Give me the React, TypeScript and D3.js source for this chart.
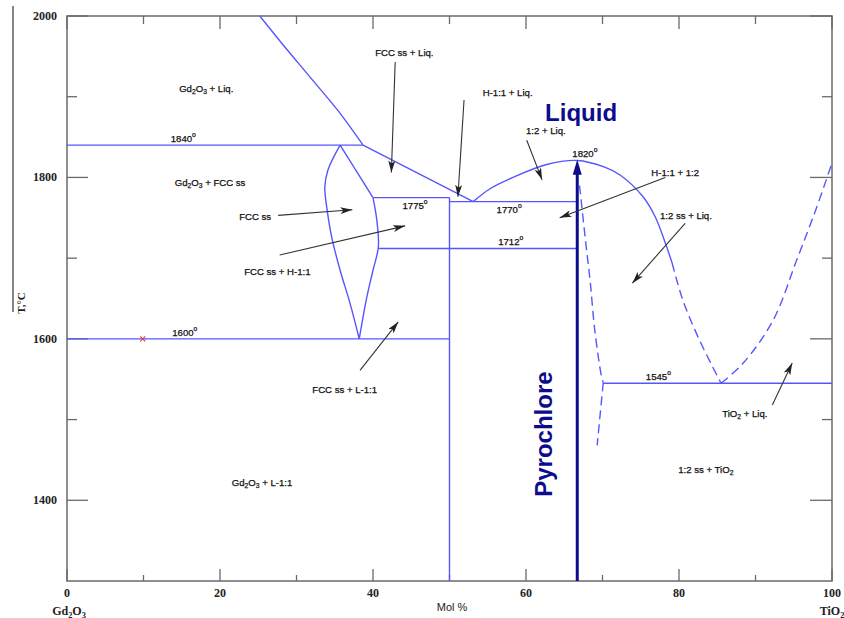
import React from "react";
import * as d3 from "d3";

// axis ticks
const molTicks = [0, 20, 40, 60, 80, 100];
const molMinor = [10, 30, 50, 70, 90];
const tempTicks = [1400, 1600, 1800, 2000];
const tempMinor = [1500, 1700, 1900];

// phase boundaries, [mol % TiO2, T °C]
const liquidusUpper = [[25.2, 2000], [28.1, 1966], [31.8, 1924], [35.4, 1883], [38.7, 1840]];
const liquidusLower = [[38.7, 1840], [53.1, 1770]];
const fccLeft = [[35.7, 1840], [34.1, 1809], [33.7, 1788], [34.0, 1760], [34.6, 1726], [35.7, 1685], [37.0, 1644], [38.2, 1600]];
const fccRightTop = [[35.7, 1840], [40.0, 1775]];
const fccRightLow = [[40.0, 1775], [40.5, 1747], [40.7, 1714], [40.0, 1685], [39.2, 1652], [38.2, 1600]];
const dome = [[53.1, 1770], [55.3, 1786], [58.3, 1800], [62.7, 1816], [66.7, 1821], [70.2, 1813], [72.3, 1803], [75.3, 1776], [76.9, 1751], [78.2, 1719], [79.1, 1694]];
const domeDashed = [[79.1, 1694], [80.5, 1648], [82.7, 1598], [85.5, 1545]];
const tio2Liquidus = [[85.5, 1545], [88.4, 1570], [92.3, 1623], [95.4, 1698], [98.0, 1763], [100, 1818]];
const pyroSolvusUpper = [[67.0, 1790], [67.8, 1720], [68.4, 1670], [69.0, 1610], [69.9, 1552], [70.1, 1546]];
const pyroSolvusLower = [[70.1, 1546], [69.3, 1468]];
const iso1840 = [[0, 1840], [38.7, 1840]];
const iso1775 = [[40, 1775], [50, 1775]];
const iso1770 = [[50, 1770], [66.7, 1770]];
const iso1712 = [[40.7, 1712], [66.7, 1712]];
const iso1600 = [[0, 1600], [50, 1600]];
const iso1545 = [[70.1, 1545], [100, 1545]];
const line11 = [[50, 1775], [50, 1300]];
const pyrochlore = [[66.7, 1300], [66.7, 1822]];

const solidCurves = [liquidusUpper, fccLeft, fccRightLow, dome];
const solidLines = [liquidusLower, fccRightTop, iso1840, iso1775, iso1770, iso1712, iso1600, iso1545, line11];
const dashedCurves = [domeDashed, tio2Liquidus, pyroSolvusUpper, pyroSolvusLower];

// labels: text, mol, T   (_x subscript, ^x superscript)
const labels: [string, number, number][] = [
  ["Gd_2O_3 + Liq.", 18.2, 1911],
  ["1840^o", 15.2, 1849],
  ["Gd_2O_3 + FCC ss", 18.7, 1794],
  ["FCC ss", 24.6, 1752],
  ["FCC ss + H-1:1", 27.5, 1684],
  ["FCC ss + Liq.", 44.1, 1955],
  ["H-1:1 + Liq.", 57.6, 1906],
  ["1:2 + Liq.", 62.6, 1859],
  ["1820^o", 67.7, 1830],
  ["1775^o", 45.5, 1766],
  ["1770^o", 57.8, 1761],
  ["1712^o", 58.0, 1721],
  ["H-1:1 + 1:2", 79.5, 1807],
  ["1:2 ss + Liq.", 80.9, 1753],
  ["1600^o", 15.4, 1608],
  ["FCC ss + L-1:1", 36.3, 1538],
  ["Gd_2O_3 + L-1:1", 25.5, 1423],
  ["1545^o", 77.3, 1554],
  ["TiO_2 + Liq.", 88.6, 1508],
  ["1:2 ss + TiO_2", 83.5, 1439],
];

// pointer arrows: from [mol, T] to [mol, T]
const arrows = [
  [[27.6, 1753], [37.3, 1760]],
  [[27.8, 1704], [44.2, 1740]],
  [[42.9, 1943], [42.4, 1806]],
  [[51.9, 1896], [51.1, 1776]],
  [[60.1, 1846], [62.1, 1797]],
  [[78.2, 1800], [64.4, 1750]],
  [[80.8, 1743], [73.9, 1669]],
  [[38.3, 1561], [43.3, 1621]],
  [[92.2, 1518], [94.8, 1570]],
];

const W = 844, H = 618;
const blue = "#5656ff";
const navy = "#0c0c8c";

function rich(s: string, fs: number) {
  const tokens = s.split(/([_^].)/).filter(Boolean);
  let shift = 0;
  return tokens.map((t, i) => {
    let target = 0, txt = t, size = fs;
    if (t.length === 2 && t[0] === "_") { target = fs * 0.3; txt = t[1]; size = fs * 0.7; }
    else if (t.length === 2 && t[0] === "^") { target = -fs * 0.45; txt = t[1]; size = fs * 0.7; }
    const dy = target - shift;
    shift = target;
    return <tspan key={i} dy={dy} fontSize={size}>{txt}</tspan>;
  });
}

export default function App() {
  const x = d3.scaleLinear().domain([0, 100]).range([67, 832]);
  const y = d3.scaleLinear().domain([1300, 2000]).range([581, 16]);
  const curve = d3.line().x((d: any) => x(d[0])).y((d: any) => y(d[1])).curve(d3.curveCatmullRom);
  const straight = d3.line().x((d: any) => x(d[0])).y((d: any) => y(d[1]));

  const axisColor = "#6a6a6a";
  const px = x(pyrochlore[1][0]), py = y(pyrochlore[1][1]);
  const rx = x(9.9), ry = y(1600);

  return (
    <svg width={W} height={H} style={{ position: "absolute", left: 0, top: 0, background: "#fff" }}>
      <defs>
        <marker id="ah" viewBox="0 0 12 7" markerWidth={12} markerHeight={7} refX={12} refY={3.5}
          orient="auto" markerUnits="userSpaceOnUse">
          <path d="M0,0 L12,3.5 L0,7 L3,3.5 z" fill="#222" />
        </marker>
      </defs>

      {/* frame */}
      <rect x={x(0)} y={y(2000)} width={x(100) - x(0)} height={y(1300) - y(2000)}
        fill="none" stroke={axisColor} strokeWidth={1.5} />
      {molTicks.concat(molMinor).map((v) => {
        const major = molTicks.includes(v);
        return (
          <g key={"mx" + v} stroke={axisColor} strokeWidth={1.3}>
            <line x1={x(v)} x2={x(v)} y1={y(1300)} y2={y(1300) - (major ? 12 : 6)} />
            <line x1={x(v)} x2={x(v)} y1={y(2000)} y2={y(2000) + (major ? 13 : 8)} />
          </g>
        );
      })}
      {tempTicks.concat(tempMinor).map((t) => {
        const major = tempTicks.includes(t);
        return (
          <g key={"ty" + t} stroke={axisColor} strokeWidth={1.3}>
            <line x1={x(0)} x2={x(0) + (major ? 21 : 10)} y1={y(t)} y2={y(t)} />
            <line x1={x(100)} x2={x(100) - (major ? 22 : 10)} y1={y(t)} y2={y(t)} />
          </g>
        );
      })}
      <g fontFamily="Liberation Serif, serif" fontWeight="bold" fontSize={12} fill="#222">
        {tempTicks.map((t) => (
          <text key={t} x={57} y={y(t)} textAnchor="end" dominantBaseline="central">{t}</text>
        ))}
        {molTicks.map((v) => (
          <text key={v} x={x(v)} y={593} textAnchor="middle" dominantBaseline="central">{v}</text>
        ))}
        <text x={x(0) + 2} y={611} textAnchor="middle" dominantBaseline="central">{rich("Gd_2O_3", 12)}</text>
        <text x={x(100)} y={611} textAnchor="middle" dominantBaseline="central">{rich("TiO_2", 12)}</text>
        <text x={452} y={607} textAnchor="middle" dominantBaseline="central" fontSize={11}
          fontFamily="Liberation Sans, Arial, sans-serif" fontWeight="normal">Mol %</text>
        <text transform="translate(21,303) rotate(-90)" textAnchor="middle" dominantBaseline="central"
          fontSize={11}>T,°C</text>
      </g>
      <line x1={13} x2={13} y1={6} y2={312} stroke="#444" strokeWidth={1.3} />

      {/* phase boundaries */}
      <g fill="none" stroke={blue} strokeWidth={1.4}>
        {solidCurves.map((c, i) => <path key={"c" + i} d={curve(c as any) || ""} />)}
        {solidLines.map((c, i) => <path key={"l" + i} d={straight(c as any) || ""} />)}
        {dashedCurves.map((c, i) => <path key={"d" + i} d={curve(c as any) || ""} strokeDasharray="9,5" />)}
      </g>

      {/* red marker */}
      <g stroke="#e04040" strokeWidth={1.1}>
        <line x1={rx - 2.5} x2={rx + 2.5} y1={ry - 2.5} y2={ry + 2.5} />
        <line x1={rx - 2.5} x2={rx + 2.5} y1={ry + 2.5} y2={ry - 2.5} />
      </g>

      {/* pyrochlore arrow */}
      <line x1={px} x2={px} y1={y(pyrochlore[0][1])} y2={py + 12} stroke={navy} strokeWidth={3} />
      <path d={`M${px},${py} L${px + 4.5},${py + 15} L${px - 4.5},${py + 15} z`} fill={navy} />

      {/* pointers */}
      <g stroke="#333" strokeWidth={1.1}>
        {arrows.map((a, i) => (
          <line key={i} x1={x(a[0][0])} y1={y(a[0][1])} x2={x(a[1][0])} y2={y(a[1][1])} markerEnd="url(#ah)" />
        ))}
      </g>

      {/* region labels */}
      <g fontFamily="Liberation Sans, Arial, sans-serif" fontSize={9.6} fill="#111" stroke="#111" strokeWidth={0.25}>
        {labels.map(([s, m, t], i) => (
          <text key={i} x={x(m)} y={y(t)} textAnchor="middle" dominantBaseline="central">{rich(s, 9.6)}</text>
        ))}
      </g>

      <text x={x(67.2)} y={y(1870)} textAnchor="middle" fontFamily="Liberation Sans, Arial, sans-serif"
        fontWeight="bold" fontSize={24} fill={navy}>Liquid</text>
      <text transform={`translate(${x(63.4)},${y(1482)}) rotate(-90)`} textAnchor="middle"
        fontFamily="Liberation Sans, Arial, sans-serif" fontWeight="bold" fontSize={24} fill={navy}>Pyrochlore</text>
    </svg>
  );
}
